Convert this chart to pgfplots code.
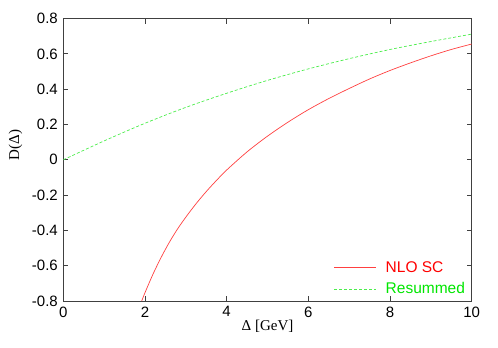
\documentclass[border=0pt]{standalone}
\usepackage{fontspec}
\setmainfont{Liberation Sans}
\newfontfamily\timesfont{Liberation Serif}
\usepackage{pgfplots}
\pgfplotsset{compat=1.18}

\definecolor{nlored}{RGB}{255,0,0}
\definecolor{resgreen}{RGB}{0,230,0}

\begin{document}
\begin{tikzpicture}[x=1pt,y=1pt]
    % bounding box matching the 498x348 reference
    \useasboundingbox (-63.3,-47) rectangle (434.7,301);
    \begin{axis}[
        at={(0,0)}, anchor=south west,
        scale only axis,
        width=408.4pt,
        height=282.4pt,
        xmin=0, xmax=10,
        ymin=-0.8, ymax=0.8,
        xtick={0,2,4,6,8,10},
        ytick={-0.8,-0.6,-0.4,-0.2,0,0.2,0.4,0.6,0.8},
        yticklabels={-0.8,-0.6,-0.4,-0.2,0,0.2,0.4,0.6,0.8},
        xticklabels={0,2,4,6,8,10},
        tick align=inside,
        major tick length=5pt,
        tick style={black!75, line width=0.8pt},
        axis line style={black!75, line width=0.8pt},
        tick label style={font=\fontsize{15}{17}\selectfont},
        xticklabel style={yshift=-2pt},
        yticklabel style={xshift=-2pt},
        xlabel={\timesfont Δ [GeV]},
        ylabel={\timesfont D(Δ)},
        label style={font=\fontsize{15}{17}\selectfont},
        xlabel style={at={(axis description cs:0.5,-0.0885)}, anchor=center},
        ylabel style={at={(axis description cs:-0.117,0.552)}, anchor=center},
        legend style={
            draw=none, fill=none,
            at={(axis description cs:0.655,0.155)}, anchor=north west,
            font=\fontsize{15.5}{17}\selectfont,
            row sep=5pt,
        },
        legend cell align=left,
        legend image code/.code={
            \draw[#1] (0pt,0pt) -- (42pt,0pt);
            \path (49pt,0pt);
        },
    ]
        \addplot[nlored!75, line width=0.7pt, smooth] coordinates {
            (1.92,-0.800) (2.0,-0.753) (2.2,-0.646) (2.4,-0.551)
            (2.6,-0.466) (2.8,-0.391) (3.0,-0.325) (3.25,-0.249)
            (3.5,-0.180) (3.75,-0.117) (4.0,-0.058) (4.5,0.045)
            (5.0,0.134) (5.5,0.213) (6.0,0.284) (6.5,0.347)
            (7.0,0.404) (7.5,0.458) (8.0,0.506) (8.5,0.549)
            (9.0,0.589) (9.5,0.625) (10.0,0.656)
        };
        \addlegendentry{\textcolor{nlored}{NLO SC}}
        \addplot[resgreen!70, line width=0.7pt, smooth, dash pattern=on 3pt off 2pt] coordinates {
            (0,0.000) (1,0.107) (2,0.207) (3,0.297) (4,0.377)
            (5,0.450) (6,0.515) (7,0.573) (8,0.625) (9,0.670) (10,0.712)
        };
        \addlegendentry{\textcolor{resgreen}{Resummed}}
    \end{axis}
\end{tikzpicture}
\end{document}
